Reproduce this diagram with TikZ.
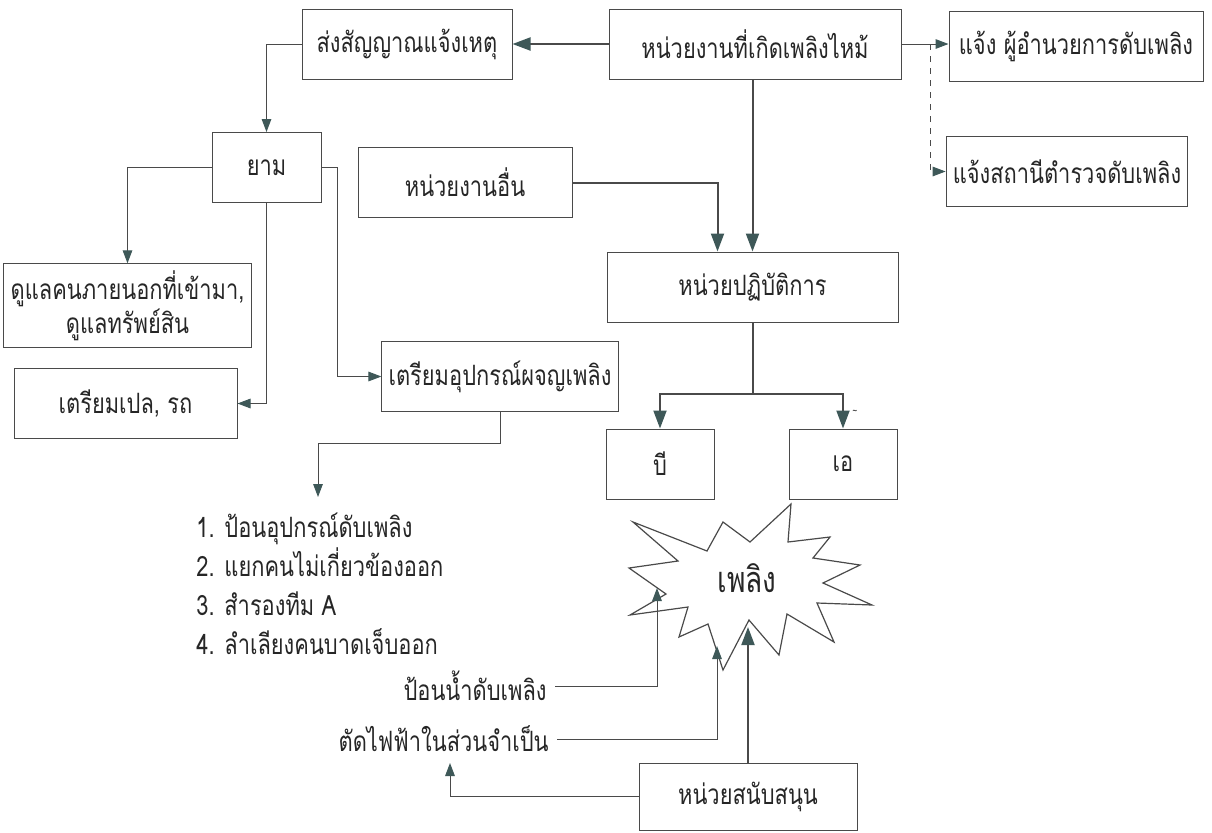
\documentclass[tikz,border=0pt]{standalone}
\usepackage{fontspec}
\setmainfont{Loma}[Script=Thai,FakeStretch=0.78]
\usepackage{tikz}
\usetikzlibrary{arrows.meta}
\usetikzlibrary{positioning}
\definecolor{tipc}{HTML}{3E5858}
\definecolor{linec}{HTML}{4A4A4A}

\begin{document}
\begin{tikzpicture}[x=0.5pt,y=-0.5pt,
        every node/.append style={font=\fontsize{14pt}{16pt}\selectfont, text=black!85},
        box/.style={draw=linec, line width=0.5pt, minimum height=35pt, align=center},
        arr/.style={draw=linec, line width=0.5pt, -{Triangle[length=6.5pt,width=4.8pt,color=tipc]}},
        thk/.style={draw=linec, line width=1pt},
        thkarr/.style={thk, -{Triangle[length=9pt,width=6.5pt,color=tipc]}}
    ]
        \useasboundingbox (0,0) rectangle (1212,832);

        \node[box, minimum width=146pt] (1) at (755,44) {หน่วยงานที่เกิดเพลิงไหม้};
        \node[box, minimum width=105pt] (2) at (407,44) {ส่งสัญญาณแจ้งเหตุ};
        \node[box, minimum width=127pt] (3) at (1076,46) {แจ้ง ผู้อำนวยการดับเพลิง};
        \node[box, minimum width=119pt] (4) at (1067,171.5) {แจ้งสถานีตำรวจดับเพลิง};
        \node[box, minimum width=54.5pt] (5) at (266.5,167.5) {ยาม};
        \node[box, minimum width=107pt] (6) at (465,182.5) {หน่วยงานอื่น};
        \node[box, minimum width=145.5pt] (7) at (752.5,287) {หน่วยปฏิบัติการ};
        \node[box, minimum width=118.5pt] (8) at (127.5,305.5) {ดูแลคนภายนอกที่เข้ามา,\\[1pt]ดูแลทรัพย์สิน};
        \node[box, minimum width=111.5pt] (9) at (125.5,403.5) {เตรียมเปล, รถ};
        \node[box, minimum width=113pt] (10) at (500,376.5) {เตรียมอุปกรณ์ผจญเพลิง};
        \node[box, minimum width=54pt] (11) at (660,464) {บี};
        \node[box, minimum width=54pt, right=37pt of 11] (12) {เอ};
        \node[box, minimum width=109pt, minimum height=33.5pt] (13) at (748,796.5) {หน่วยสนับสนุน};

        \node[anchor=base west, inner sep=0pt] (17) at (196,537) {1. ป้อนอุปกรณ์ดับเพลิง};
        \node[anchor=base west, inner sep=0pt] (18) at (196,576) {2. แยกคนไม่เกี่ยวข้องออก};
        \node[anchor=base west, inner sep=0pt] (19) at (196,615) {3. สำรองทีม A};
        \node[anchor=base west, inner sep=0pt] (20) at (196,654) {4. ลำเลียงคนบาดเจ็บออก};
        \node[anchor=east, inner sep=4pt] (15) at (555,686) {ป้อนน้ำดับเพลิง};
        \node[anchor=east, inner sep=4pt] (16) at (557,739) {ตัดไฟฟ้าในส่วนจำเป็น};

        \draw[draw=linec, line width=0.6pt, fill=white] (791,504) -- (788,542) -- (830,537) -- (813,558)
            -- (860,565) -- (823,583) -- (872,605) -- (817,603) -- (834,642) -- (787,614)
            -- (779,655) -- (749,620) -- (723,670) -- (708,624) -- (679,637) -- (688,607)
            -- (630,615) -- (666,594) -- (629,568) -- (678,561) -- (633,522) -- (707,551)
            -- (723,522) -- (750,542) -- cycle;
        \node[font=\fontsize{18pt}{20pt}\selectfont] (14) at (747,578) {เพลิง};
        \node[font=\tiny, inner sep=0pt] (21) at (855,412) {\textasciitilde};

        \coordinate (f1) at (657,588);
        \coordinate (f2) at (717,646);
        \coordinate (f3) at (748,627);
        \coordinate (t1) at (318,497);
        \coordinate (t2) at (450,763);

        \draw[thkarr] (1.west) -- (2.east);
        \draw[arr] (1.east) -- (1.east -| 3.west);
        \draw[arr, dashed] ([xshift=14.5pt]1.east) |- (4.west);
        \draw[thkarr] (1.south -| 7.north) -- (7.north);
        \draw[thkarr] (6.east) -| ([xshift=-17.5pt]7.north);
        \draw[arr] (2.west) -| (5.north);
        \draw[arr] (5.west) -| (8.north);
        \draw[arr] (5.south) |- (9.east);
        \draw[arr] (5.east) -- ++(16,0) |- (10.west);
        \draw[arr] (10.south) -- ++(0,31) -| (t1);
        \draw[thk] (7.south) -- ++(0,71) coordinate (s);
        \draw[thkarr] (s) -| (11.north);
        \draw[thkarr] (s) -| (12.north);
        \draw[arr] (15.east) -| (f1);
        \draw[arr] (16.east) -| (f2);
        \draw[thkarr] (13.north) -- (f3);
        \draw[arr] (13.west) -| (t2);
    \end{tikzpicture}
\end{document}
